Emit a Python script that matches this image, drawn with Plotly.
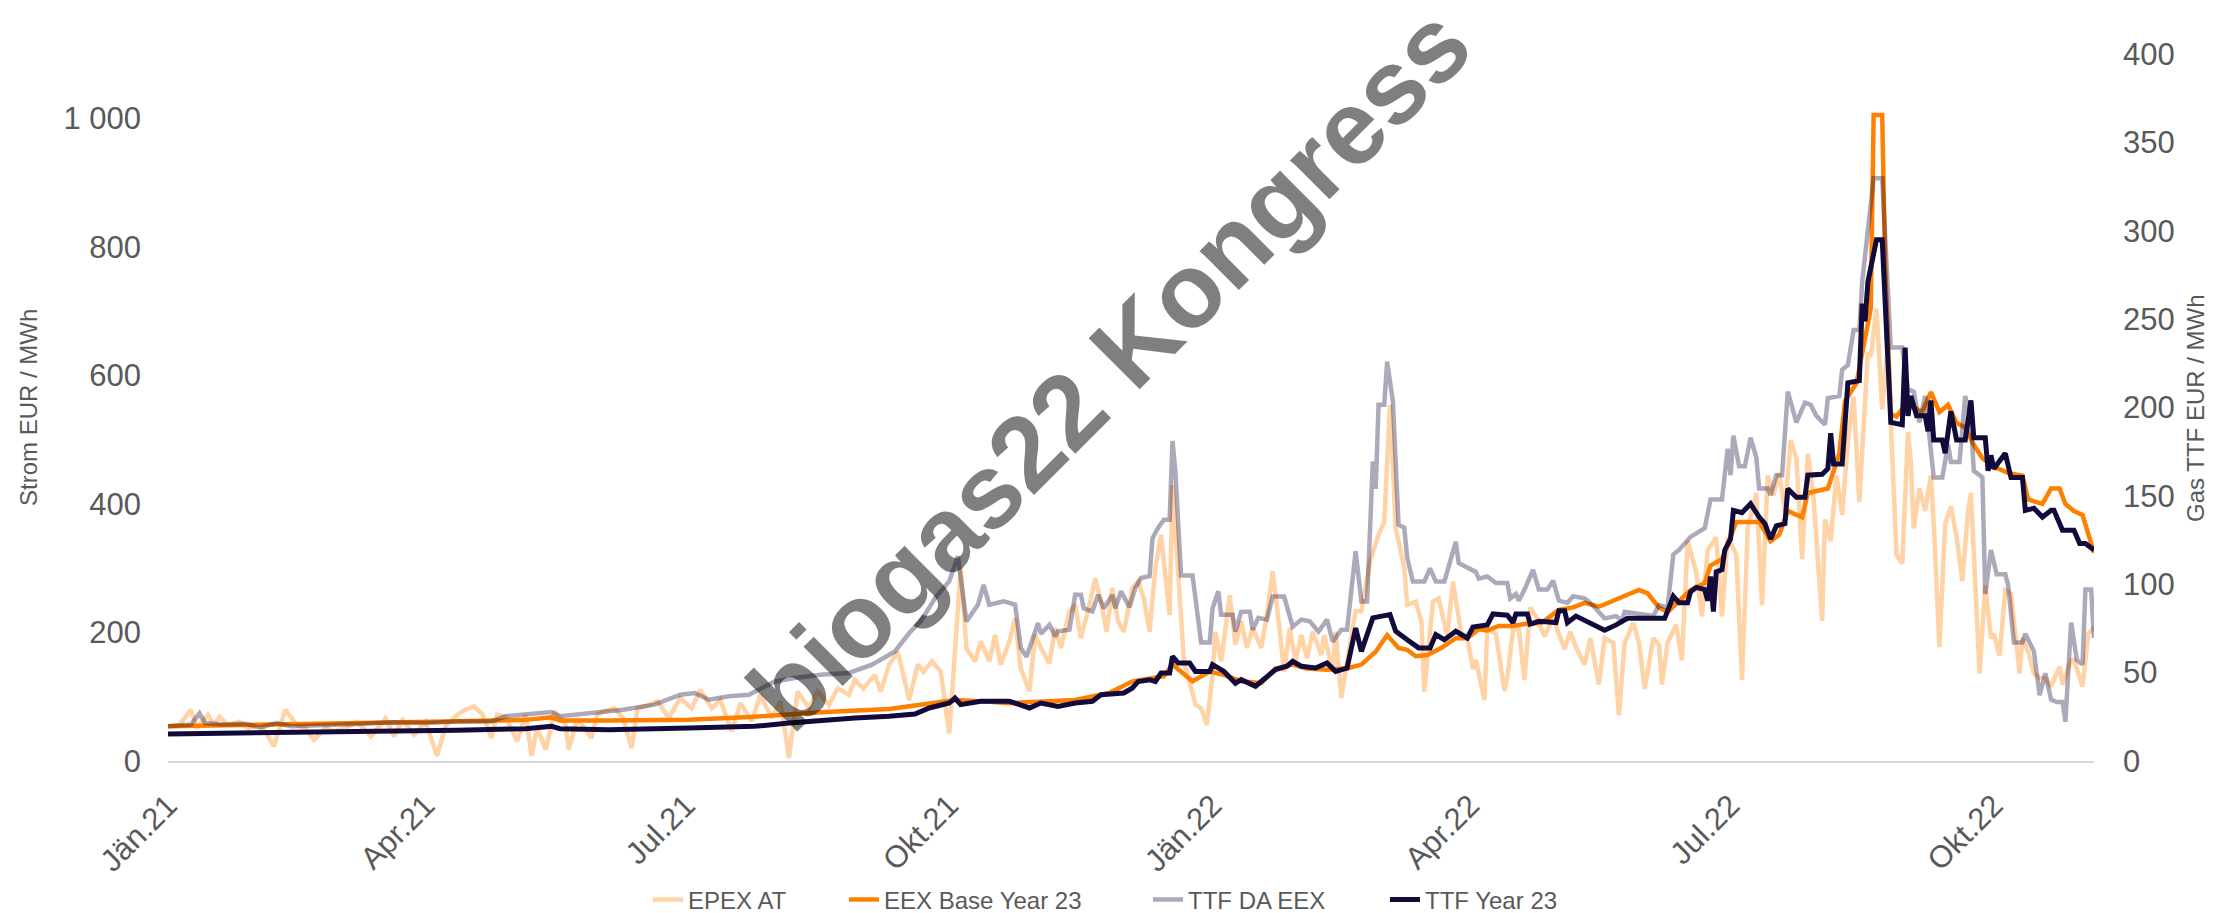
import plotly.graph_objects as go
import pandas as pd

# ---------------- data (day offset from 1 Jan 2021, value) ----------------
START = "2021-01-01"

epex_day = [0,4,8,10,14,16,18,21,25,28,32,34,37,41,45,48,51,55,58,62,66,71,76,79,82,86,90,94,97,101,104,107,110,113,115,118,122,125,127,129,132,135,139,140,143,148,150,
            152,156,159,162,164,168,171,175,179,183,186,190,193,197,200,204,207,211,214,217,220,224,227,231,234,238,240,243,247,249,252,255,257,259,262,264,267,270,273,275,277,279,282,284,287,289,291,294,
            296,298,301,303,305,308,310,312,315,317,319,322,324,326,328,330,332,334,337,339,341,343,345,347,348,350,351,354,355,359,361,363,365,366,368,371,373,375,377,379,382,384,386,388,390,392,394,396,398,400,403,404,407,408,410,412,415,417,420,423,425,427,429,432,433,436,438,439,442,444,447,449,452,454,
            456,457,460,461,464,467,468,470,472,474,476,478,481,484,488,490,492,495,497,500,502,505,507,509,512,514,516,519,521,522,524,527,529,531,534,536,538,541,543,545,548,550,552,555,557,559,561,563,565,567,
            569,571,573,575,578,579,581,583,585,587,589,591,594,595,597,599,601,602,604,606,608,609,610,612,614,616,617,619,621,623,625,627,629,630,633,635,637,638,640,642,644,647,648,650,652,654,656,658,661,662,665,666,669,671,673]
epex_val = [54,56,80,51,72,56,69,56,61,51,56,46,23,80,56,51,33,51,46,51,61,38,66,38,64,41,61,8,54,72,80,85,72,36,72,69,31,72,8,51,18,77,56,18,66,36,72,
            77,82,67,20,82,87,93,67,98,82,111,82,95,46,90,62,103,67,93,5,108,82,108,87,113,103,126,113,134,108,150,170,129,95,150,139,155,139,43,175,300,175,155,186,155,196,150,186,
            222,144,108,196,176,152,207,176,233,243,191,243,284,248,201,269,217,201,269,279,253,201,300,352,310,227,429,227,155,88,82,56,134,201,155,258,181,217,176,207,176,227,295,222,139,207,155,196,160,201,165,196,139,201,98,155,233,233,310,352,372,554,362,300,243,248,217,108,248,253,196,279,196,191,
            143,157,95,205,198,109,129,205,205,126,239,225,194,222,174,201,177,150,191,119,191,184,71,184,215,184,112,191,181,119,184,212,157,342,294,225,328,348,225,348,321,126,362,417,242,444,413,448,389,499,
            471,314,478,410,218,376,342,444,383,499,567,403,636,629,704,547,649,526,321,307,512,465,362,424,389,444,369,177,369,396,348,280,389,417,136,273,191,198,164,266,260,136,191,170,136,129,129,116,147,119,157,157,116,198,208]

eex_day = [0,32,55,78,101,113,125,134,137,154,182,205,228,252,264,275,287,294,
           317,329,337,344,348,351,354,358,364,369,375,382,387,393,398,405,412,417,422,426,430,433,436,440,445,450,
           454,458,461,465,470,474,480,486,491,495,500,505,509,514,517,521,524,528,532,537,539,543,548,552,556,560,563,566,
           571,573,580,584,586,590,593,595,596,599,600,602,604,608,610,613,616,619,622,625,628,631,634,638,643,648,650,655,658,661,663,666,669,672,673]
eex_val = [54,56,57,60,62,63,64,68,63,63,64,69,76,81,87.5,95,92,90,
           95,106,124,129,132,150,139,124,139,134,124,121,144,150,144,142,144,150,170,196,176,173,163,165,176,191,
           191,205,203,210,210,213,215,235,239,246,240,249,256,266,261,239,232,249,266,277,304,314,372,372,372,342,352,389,
           379,417,424,478,560,588,663,704,1005,1005,772,540,536,560,550,543,574,543,554,526,519,492,471,458,448,444,407,400,424,424,400,389,383,342,324]

ttfda_day = [0,8,11,13,19,27,32,38,43,55,66,78,90,101,113,118,125,134,137,143,
             147,159,170,179,184,189,196,203,212,219,228,238,246,254,259,263,268,273,276,279,283,285,287,292,296,
             298,300,304,305,308,310,311,315,317,319,320,323,325,327,330,331,333,336,338,340,343,344,346,348,350,351,352,354,358,361,364,365,367,368,372,373,375,378,379,381,384,386,390,393,396,399,402,405,407,410,412,415,417,419,421,422,423,425,426,428,430,432,433,435,439,441,443,446,450,
             451,457,458,461,464,468,469,471,472,474,477,479,482,484,486,489,491,495,497,502,506,508,509,514,519,521,524,526,528,532,537,539,543,545,546,547,549,551,553,555,556,559,560,562,564,
             566,569,572,574,576,579,580,584,585,587,589,591,592,594,596,599,601,602,606,608,610,612,614,616,617,620,622,623,626,628,630,631,634,635,637,639,642,643,645,648,649,652,654,656,658,660,662,663,665,667,669,670,672,673]
ttfda_val = [19.7,20.6,27,21.5,20.6,21,19,21.5,19.7,20.2,21,21.9,21.5,22.4,22.4,25.3,26.2,27.7,25.3,26.2,
             27.2,29,31.9,37.5,38.5,34.7,36.6,37.5,45,47,48.8,49.8,54.5,62,72.4,79,92,101.7,115.8,79,88.4,99.7,88.4,90.3,88.5,
             64,59,78,72,77,70.5,73.4,74.3,94,94,86.4,84.7,94,86.4,94,86.4,96,87,98,103.5,104.6,126,132,136.5,136.5,181,164,105,105,67,67,86.4,96,82.8,82.8,73.2,84.5,84.5,74.3,81,80,93,93,76,80,79,73.2,80,67.5,74.3,74.3,118.6,90.3,90.3,169.5,154,201.6,201.6,226,203.5,133.7,132,115,101.6,101.6,109,101.6,101.6,124,
             112,107,103.2,104.4,100.7,100.7,92,94.5,90.7,97,108.2,97,97,102,90.7,89.5,93.2,92,89.5,80.7,82,79.5,84.5,83.2,82,88.2,86.9,116.9,119.4,126.8,131.8,148,148,176.6,161.7,184,166.7,166.7,182.9,171.7,154.2,154.2,150.5,161.7,161.7,
             209,191.6,202.8,201.5,195.3,190.3,205.3,206.5,221.4,224,243.9,243.9,271.2,303.6,329.7,329.7,256.3,233.9,233.9,210.2,209,191.6,206.5,174.1,160.4,160.4,179.1,169.2,169.2,206.5,191.6,164.2,160.4,94.5,119.4,105.7,105.7,99.5,67,67,72,62,37.2,49.6,34.7,33.4,33.4,22.2,78.3,57.1,54.6,97,97,69.6]

ttfy_day = [0,32,66,101,125,134,137,154,182,205,217,228,240,252,261,266,273,275,277,284,294,
            301,305,311,317,323,326,334,337,339,343,345,347,350,351,353,357,359,364,365,369,373,375,380,383,387,391,393,396,401,405,408,412,415,417,421,427,429,433,437,441,443,446,450,
            454,456,461,463,468,470,471,475,476,479,485,486,488,489,492,495,497,502,506,510,516,523,526,528,531,532,534,537,538,539,540,541,543,544,546,547,550,553,556,558,560,562,565,566,569,572,
            573,578,580,581,582,585,587,591,592,593,594,596,597,599,601,602,606,607,608,609,611,614,615,616,617,620,621,623,625,628,630,631,635,636,637,638,642,644,648,649,652,655,658,659,662,666,668,670,673]
ttfy_val = [15.3,15.8,16.8,17.4,18.3,19.6,18.3,17.7,18.7,19.6,21.5,23,24.3,25.3,26.6,30,32.8,35.6,31.9,33.8,33.8,
            30,32.8,30.9,32.8,33.8,37.5,38.5,41.3,45,46,45,49.8,49.8,59.2,55.4,55.4,50.7,50.7,54.5,50.7,44,46,42.3,46,51.7,53.6,56.4,53.6,52.6,55.4,50.7,52.6,75.2,62,81,82.8,73.4,68.6,64,64,71.5,68.6,73.4,
            69.6,75.8,77,83.2,82.5,78.3,83.2,83.2,77.5,79,78.3,85,85,78.3,82,79.5,78.3,74,77,80.7,80.7,80.7,93.2,89.5,89.5,95.7,98.2,97,90.7,104.4,84.5,107,108.2,119.4,125.6,141.8,140.5,145.5,138,134.3,125.6,133,134.3,154,149.2,149.2,
            161.7,162.2,165.4,185.4,168,168,214,215.2,258.8,248.8,271.2,288.6,294.9,294.9,231.4,191.6,190.3,233.9,195.3,206.5,195.3,195.3,186.6,204,181.6,181.6,174.1,197.8,181.6,181.6,204,182.9,182.9,164.2,172.9,165.4,174.1,160.4,160.4,141.8,143,138,141.8,141.8,130.6,130.6,123.1,123.1,119.4]

x_tick_dates = ["2021-01-01","2021-04-01","2021-07-01","2021-10-01","2022-01-01","2022-04-01","2022-07-01","2022-10-01"]
x_tick_text = ["Jän.21","Apr.21","Jul.21","Okt.21","Jän.22","Apr.22","Jul.22","Okt.22"]
y1_ticks = [0,200,400,600,800,1000]
y1_text = ["0","200","400","600","800","1 000"]
y2_ticks = [0,50,100,150,200,250,300,350,400]

series_names = ["EPEX AT","EEX Base Year 23","TTF DA EEX","TTF Year 23"]
y1_title = "Strom EUR / MWh"
y2_title = "Gas TTF EUR / MWh"
watermark = "biogas22 Kongress"

# ---------------- figure ----------------
W, H = 2229, 913
L, R, T, B = 160, 143, 46, 160
PW, PH = W - L - R, H - T - B

t0 = pd.Timestamp(START)
def dates(days):
    return [t0 + pd.Timedelta(days=int(d)) for d in days]

def px_x(px):
    return (px - L) / PW

def px_y(py):
    return (H - B - py) / PH

FONT = "Liberation Sans, Arial, sans-serif"
GREY = "#595959"

styles = [
    dict(color="rgba(255,128,0,0.35)", width=4.5),
    dict(color="#FF8000", width=4.5),
    dict(color="rgba(16,8,56,0.35)", width=4.5),
    dict(color="#110A3B", width=5),
]
xs = [epex_day, eex_day, ttfda_day, ttfy_day]
ys = [epex_val, eex_val, ttfda_val, ttfy_val]
axes = ["y", "y", "y2", "y2"]
legend_ids = ["legend", "legend2", "legend3", "legend4"]
legend_left_px = [640, 836, 1140, 1377]

fig = go.Figure()
for i in range(4):
    fig.add_trace(go.Scatter(x=dates(xs[i]), y=ys[i], name=series_names[i], mode="lines",
                             line=styles[i], yaxis=axes[i], legend=legend_ids[i]))

legend_common = dict(orientation="h", xref="container", yref="container", xanchor="left",
                     y=(H - 892) / H, yanchor="middle", font=dict(size=24, color=GREY, family=FONT),
                     bgcolor="rgba(0,0,0,0)", borderwidth=0)

layout_legends = {}
for lid, lx in zip(legend_ids, legend_left_px):
    layout_legends[lid] = dict(legend_common, x=lx / W)

fig.update_layout(
    width=W, height=H,
    margin=dict(l=L, r=R, t=T, b=B, autoexpand=False),
    paper_bgcolor="white", plot_bgcolor="white",
    font=dict(family=FONT, color=GREY),
    showlegend=True,
    xaxis=dict(type="date", range=["2021-01-01", "2022-11-05"], tickvals=x_tick_dates, ticktext=x_tick_text,
               tickangle=-45, tickfont=dict(size=31, color=GREY), showgrid=False, zeroline=False,
               showline=True, linecolor="#D9D9D9", linewidth=2, ticks="", ticklabelstandoff=12),
    yaxis=dict(range=[0, 1100], tickvals=y1_ticks, ticktext=y1_text, tickfont=dict(size=31, color=GREY),
               showgrid=False, zeroline=False, showline=False, ticks="", ticklabelstandoff=26),
    yaxis2=dict(range=[0, 400], tickvals=y2_ticks, overlaying="y", side="right",
                tickfont=dict(size=31, color=GREY), showgrid=False, zeroline=False, showline=False,
                ticks="", ticklabelstandoff=28),
    annotations=[
        dict(text=watermark, x=px_x(1101), y=px_y(361), xref="paper", yref="paper",
             xanchor="center", yanchor="middle", textangle=-45, showarrow=False,
             font=dict(family=FONT, size=105, color="rgba(0,0,0,0.5)", weight="bold")),
        dict(text=y1_title, x=px_x(20), y=px_y(400), xref="paper", yref="paper",
             xanchor="center", yanchor="middle", textangle=-90, showarrow=False,
             font=dict(family=FONT, size=24, color=GREY)),
        dict(text=y2_title, x=px_x(2187), y=px_y(400), xref="paper", yref="paper",
             xanchor="center", yanchor="middle", textangle=-90, showarrow=False,
             font=dict(family=FONT, size=24, color=GREY)),
    ],
    **layout_legends,
)

fig.write_html("out.html")
